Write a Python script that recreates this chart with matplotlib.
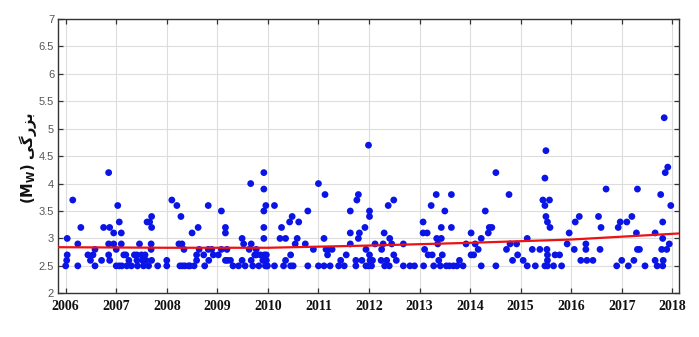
import matplotlib
matplotlib.use("Agg")
import matplotlib.pyplot as plt

# ---- data (decimal year, magnitude Mw) ----
years = [
    2006.00, 2006.02, 2006.03, 2006.03, 2006.14, 2006.24, 2006.24, 2006.30,
    2006.44, 2006.49, 2006.54, 2006.58, 2006.58, 2006.71, 2006.75, 2006.85,
    2006.87, 2006.85, 2006.85, 2006.87, 2006.95, 2006.95, 2007.00, 2007.00,
    2007.03, 2007.06, 2007.10, 2007.10, 2007.06, 2007.11, 2007.15, 2007.19,
    2007.21, 2007.25, 2007.30, 2007.36, 2007.41, 2007.41, 2007.42, 2007.46,
    2007.50, 2007.52, 2007.54, 2007.57, 2007.59, 2007.61, 2007.64, 2007.66,
    2007.69, 2007.69, 2007.70, 2007.70, 2007.70, 2007.82, 2008.00, 2008.00,
    2008.10, 2008.20, 2008.24, 2008.28, 2008.30, 2008.34, 2008.26, 2008.31,
    2008.36, 2008.43, 2008.46, 2008.50, 2008.54, 2008.59, 2008.59, 2008.62,
    2008.64, 2008.73, 2008.75, 2008.82, 2008.82, 2008.83, 2008.89, 2008.92,
    2009.02, 2009.08, 2009.08, 2009.16, 2009.16, 2009.19, 2009.16, 2009.20,
    2009.26, 2009.31, 2009.42, 2009.49, 2009.49, 2009.52, 2009.55, 2009.63,
    2009.66, 2009.67, 2009.67, 2009.70, 2009.74, 2009.77, 2009.77, 2009.82,
    2009.85, 2009.90, 2009.92, 2009.92, 2009.92, 2009.92, 2009.92, 2009.93,
    2009.95, 2009.96, 2009.97, 2009.98, 2009.97, 2009.99,
    2010.13, 2010.13, 2010.24, 2010.27, 2010.31, 2010.35, 2010.35, 2010.43,
    2010.45, 2010.45, 2010.48, 2010.50, 2010.54, 2010.58, 2010.61, 2010.74,
    2010.79, 2010.79, 2010.90, 2011.00, 2011.00, 2011.11, 2011.13, 2011.15,
    2011.18, 2011.20, 2011.11, 2011.23, 2011.27, 2011.40, 2011.44, 2011.51,
    2011.55, 2011.63, 2011.63, 2011.63, 2011.74, 2011.74, 2011.76, 2011.79,
    2011.79, 2011.81, 2011.86, 2011.92, 2011.94, 2011.94, 2011.99, 2012.01,
    2012.01, 2012.01, 2012.02, 2012.05, 2011.99, 2012.07, 2012.12, 2012.24,
    2012.25, 2012.28, 2012.30, 2012.31, 2012.35, 2012.38, 2012.40, 2012.41,
    2012.45, 2012.49, 2012.49, 2012.54, 2012.68, 2012.68, 2012.81, 2012.90,
    2013.07, 2013.07, 2013.08, 2013.10, 2013.15, 2013.17, 2013.23, 2013.25,
    2013.28, 2013.33, 2013.34, 2013.36, 2013.38, 2013.41, 2013.43, 2013.43,
    2013.45, 2013.50, 2013.53, 2013.59, 2013.63, 2013.63, 2013.67, 2013.74,
    2013.79, 2013.86, 2013.92,
    2014.02, 2014.02, 2014.07, 2014.10, 2014.16, 2014.22, 2014.22, 2014.30,
    2014.36, 2014.38, 2014.43, 2014.51, 2014.51, 2014.72, 2014.77, 2014.79,
    2014.84, 2014.92, 2014.94, 2015.05, 2015.13, 2015.13, 2015.23, 2015.29,
    2015.38, 2015.44, 2015.48, 2015.50, 2015.48, 2015.50, 2015.53, 2015.57,
    2015.58, 2015.52, 2015.53, 2015.53, 2015.48, 2015.53, 2015.65, 2015.68,
    2015.77, 2015.81, 2015.92, 2015.96, 2016.06, 2016.08, 2016.16, 2016.19,
    2016.29, 2016.29, 2016.31, 2016.43, 2016.54, 2016.59, 2016.57, 2016.69,
    2016.90, 2016.93, 2016.97, 2017.00, 2017.10, 2017.13, 2017.20, 2017.24,
    2017.31, 2017.29, 2017.31, 2017.35, 2017.46, 2017.66, 2017.66, 2017.70,
    2017.77, 2017.81, 2017.81, 2017.79, 2017.81, 2017.84, 2017.86, 2017.91,
    2017.82, 2017.89, 2017.94, 2017.97,
]
mags = [
    2.5, 2.6, 2.7, 3.0, 3.7, 2.9, 2.5, 3.2,
    2.7, 2.6, 2.7, 2.8, 2.5, 2.6, 3.2, 4.2,
    3.2, 2.9, 2.7, 2.6, 3.1, 2.9, 2.8, 2.5,
    3.6, 3.3, 3.1, 2.9, 2.5, 2.5, 2.7, 2.7,
    2.5, 2.6, 2.5, 2.7, 2.7, 2.6, 2.5, 2.9,
    2.7, 2.6, 2.5, 2.7, 2.6, 3.3, 2.5, 3.3,
    2.9, 2.8, 3.4, 3.2, 2.6, 2.5, 2.6, 2.5,
    3.7, 3.6, 2.9, 3.4, 2.9, 2.8, 2.5, 2.5,
    2.5, 2.5, 2.5, 3.1, 2.5, 2.7, 2.6, 3.2,
    2.8, 2.7, 2.5, 3.6, 2.8, 2.6, 2.8, 2.7,
    2.7, 3.5, 2.8, 3.2, 3.1, 2.8, 2.6, 2.6,
    2.6, 2.5, 2.5, 3.0, 2.6, 2.9, 2.5, 2.8,
    4.0, 2.9, 2.6, 2.5, 2.7, 2.8, 2.7, 2.5,
    2.7, 2.6, 4.2, 3.9, 3.5, 3.2, 3.0, 2.7,
    2.5, 3.6, 2.6, 2.5, 2.7, 2.5,
    3.6, 2.5, 3.0, 3.2, 2.5, 2.6, 3.0, 3.3,
    2.7, 2.5, 3.4, 2.5, 2.9, 3.0, 3.3, 2.9,
    3.5, 2.5, 2.8, 4.0, 2.5, 3.0, 3.8, 2.8,
    2.7, 2.8, 2.5, 2.5, 2.8, 2.5, 2.6, 2.5,
    2.7, 3.5, 3.1, 2.9, 2.5, 2.6, 3.7, 3.8,
    3.0, 3.1, 2.6, 3.2, 2.8, 2.5, 4.7, 3.5,
    3.4, 2.7, 2.6, 2.5, 2.5, 2.6, 2.9, 2.6,
    2.8, 2.9, 3.1, 2.5, 2.6, 3.6, 2.5, 3.0,
    2.9, 3.7, 2.7, 2.6, 2.9, 2.5, 2.5, 2.5,
    3.3, 3.1, 2.5, 2.8, 3.1, 2.7, 3.6, 2.7,
    2.5, 3.8, 3.0, 2.9, 2.6, 2.5, 3.2, 3.0,
    2.7, 3.5, 2.5, 2.5, 3.8, 3.2, 2.5, 2.5,
    2.6, 2.5, 2.9,
    3.1, 2.7, 2.7, 2.9, 2.8, 3.0, 2.5, 3.5,
    3.1, 3.2, 3.2, 4.2, 2.5, 2.8, 3.8, 2.9,
    2.6, 2.9, 2.7, 2.6, 3.0, 2.5, 2.8, 2.5,
    2.8, 3.7, 4.1, 4.6, 3.6, 3.4, 3.3, 3.7,
    3.2, 2.8, 2.7, 2.6, 2.5, 2.5, 2.5, 2.7,
    2.7, 2.5, 2.9, 3.1, 2.8, 3.3, 3.4, 2.6,
    2.9, 2.8, 2.6, 2.6, 3.4, 3.2, 2.8, 3.9,
    2.5, 3.2, 3.3, 2.6, 3.3, 2.5, 3.4, 2.6,
    3.9, 3.1, 2.8, 2.8, 2.5, 3.1, 2.6, 2.5,
    3.8, 3.3, 3.0, 2.8, 2.5, 5.2, 4.2, 4.3,
    2.6, 2.8, 2.9, 3.6,
]

# trend line
trend_years = [2005.86, 2008, 2010, 2012, 2014, 2016, 2018.12]
trend_mags = [2.84, 2.83, 2.83, 2.87, 2.92, 2.98, 3.09]

xticks = list(range(2006, 2019))
yticks = [2, 2.5, 3, 3.5, 4, 4.5, 5, 5.5, 6, 6.5, 7]
ytick_labels = ["2", "2.5", "3", "3.5", "4", "4.5", "5", "5.5", "6", "6.5", "7"]

# Persian label "بزرگی" in visual (left-to-right) order using presentation forms
persian = "\uFBFD\uFB94\uFEAD\uFEB0\uFE91"
ylabel = "(M$_\\mathbf{W}$) " + persian

fig = plt.figure(figsize=(6.99, 3.37), dpi=100)
ax = fig.add_axes([0.0834, 0.1297, 0.971 - 0.0834, 0.9436 - 0.1297])

ax.scatter(years, mags, s=24, color="#0a14e6", edgecolors="none", zorder=3)
ax.plot(trend_years, trend_mags, color="#ee1111", lw=1.6, zorder=4)

ax.set_xlim(2005.854, 2018.127)
ax.set_ylim(2, 7)
ax.set_xticks(xticks)
ax.set_xticklabels([str(x) for x in xticks], fontfamily="Liberation Serif",
                   fontweight="bold", fontsize=10, color="#111111")
ax.set_yticks(yticks)
ax.set_yticklabels(ytick_labels, fontfamily="Liberation Sans", fontsize=8,
                   color="#555555")
ax.tick_params(axis="both", direction="in", length=3.5, width=0.9,
               top=True, right=True, color="#333333")
ax.tick_params(axis="x", pad=4.5)
ax.tick_params(axis="y", pad=3)
ax.grid(True, color="#dddddd", linewidth=0.8, zorder=0)
ax.set_axisbelow(True)
for s in ax.spines.values():
    s.set_color("#333333")
    s.set_linewidth(1.0)

fig.text(0.04, 0.53, ylabel, rotation=90, ha="center", va="center",
         fontsize=10.5, fontweight="bold", fontfamily="DejaVu Sans", color="#111111")

fig.savefig("out.png", dpi=100)
